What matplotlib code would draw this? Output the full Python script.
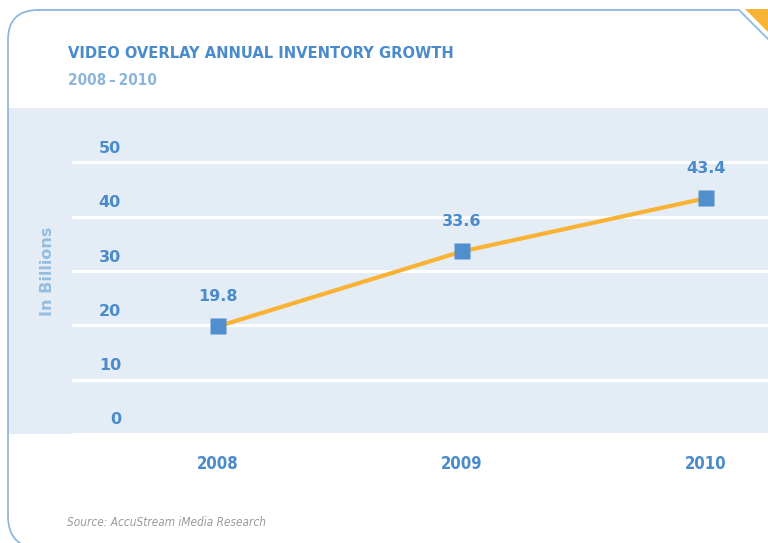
import matplotlib
matplotlib.use("Agg")
import matplotlib.pyplot as plt
from matplotlib import font_manager, transforms
from matplotlib.font_manager import FontProperties
from matplotlib.patches import Rectangle, PathPatch, Polygon
from matplotlib.path import Path

# inventory, billions of impressions
years = ["2008", "2009", "2010"]
inventory = [19.8, 33.6, 43.4]
y_ticks = [0, 10, 20, 30, 40, 50]

W, H = 768, 543
BLUE = "#4a8bcb"
LIGHT = "#8fb8dc"
PANEL = "#e4ecf5"
ORANGE = "#f9b234"

# prefer a condensed face for the headings if one is around
cond = font_manager.findfont(FontProperties(family="DejaVu Sans", stretch="condensed",
                                            weight="bold"))
if "Condensed" in cond:
    head = dict(fontfamily="DejaVu Sans", fontstretch="condensed")
    scale = 1.0
else:
    head = dict(fontfamily="Liberation Sans")
    scale = 0.92
wide = "DejaVu Sans"

fig = plt.figure(figsize=(W / 100, H / 100), dpi=100)


def px(x, y):
    # pixel position (from top-left) -> inches from bottom-left
    return (x / 100, (H - y) / 100)


inch = fig.dpi_scale_trans

# shaded plot band
x0, y0 = px(8, 434)
fig.patches.append(Rectangle((x0, y0), (W - 8) / 100, (434 - 108) / 100,
                             transform=inch, facecolor=PANEL, edgecolor="none", zorder=-2))

# rounded frame with clipped top-right corner
verts = [px(40, 548), px(8, 548), px(8, 516), px(8, 40), px(8, 10), px(38, 10),
         px(739, 10), px(772, 43)]
codes = [Path.MOVETO, Path.CURVE3, Path.CURVE3, Path.LINETO, Path.CURVE3, Path.CURVE3,
         Path.LINETO, Path.LINETO]
fig.patches.append(PathPatch(Path(verts, codes), transform=inch, facecolor="none",
                             edgecolor=LIGHT, lw=1.3, zorder=1))
fig.patches.append(Polygon([px(745, 9), px(770, 9), px(770, 34)], closed=True,
                           transform=inch, facecolor=ORANGE, edgecolor="none", zorder=1))

ax = fig.add_axes([72 / W, 1 - 434 / H, (W - 72) / W, (434 - 108) / H])
ax.set_facecolor("none")
ax.set_xlim(-0.598, 2.254)
ax.set_ylim(0, 60)
for s in ax.spines.values():
    s.set_visible(False)

ax.set_yticks(y_ticks)
ax.yaxis.grid(True, color="white", lw=2.2)
ax.set_axisbelow(True)
ax.tick_params(axis="y", length=0, labelleft=False)

xs = list(range(len(years)))
ax.set_xticks(xs)
ax.set_xticklabels(years, fontweight="bold", fontsize=12 * scale, color=BLUE, **head)
ax.tick_params(axis="x", length=0, pad=15)

# y labels sit just above their gridlines
lab_tr = transforms.blended_transform_factory(ax.transAxes, ax.transData) + \
    transforms.ScaledTranslation(0, 0.14, inch)
for v in y_ticks:
    ax.text((121 - 72) / (W - 72), v, str(v), transform=lab_tr, ha="right", va="center",
            fontfamily=wide, fontweight="bold", fontsize=11.5, color=BLUE)

ax.plot(xs, inventory, color=ORANGE, lw=3, zorder=3)
ax.plot(xs, inventory, ls="none", marker="s", ms=11.5, mfc="#4f8fcd", mec="none", zorder=4)
for x, v in zip(xs, inventory):
    ax.annotate(f"{v:.1f}", (x, v), xytext=(0, 30), textcoords="offset pixels",
                ha="center", va="center", fontfamily=wide, fontweight="bold",
                fontsize=11.5, color=BLUE)

fig.text(48 / W, 1 - 271 / H, "In Billions", rotation=90, ha="center", va="center",
         fontfamily=wide, fontweight="bold", fontsize=11.5, color="#94bde0")

fig.text(68 / W, 1 - 58 / H, "VIDEO OVERLAY ANNUAL INVENTORY GROWTH", ha="left",
         va="baseline", fontweight="bold", fontsize=11.8 * scale, color=BLUE, **head)
fig.text(68 / W, 1 - 85 / H, "2008\u2009\u2013\u20092010", ha="left", va="baseline",
         fontweight="bold", fontsize=11 * scale, color="#8db5db", **head)
fig.text(67 / W, 1 - 526 / H, "Source: AccuStream iMedia Research", ha="left",
         va="baseline", fontstyle="italic", fontsize=8.5 * scale, color="#9a9a9a",
         **head)

fig.savefig("out.png", dpi=100)
